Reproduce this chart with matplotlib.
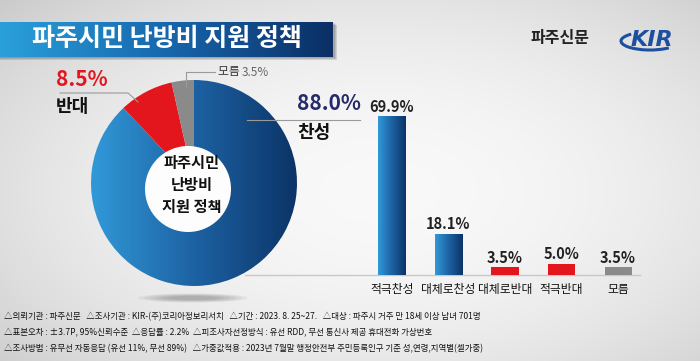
import numpy as np
import matplotlib
matplotlib.use('Agg')
import matplotlib.pyplot as plt
from matplotlib.colors import LinearSegmentedColormap
from matplotlib.patches import Rectangle, Circle, Ellipse, Arc

plt.rcParams['font.family'] = ['Noto Sans CJK KR', 'DejaVu Sans']

# ---------------- data ----------------
title = '파주시민 난방비 지원 정책'
publisher = '파주신문'
logo = 'KIR'
pie_labels = ['찬성', '반대', '모름']
pie_values = [88.0, 8.5, 3.5]
bar_labels = ['적극찬성', '대체로찬성', '대체로반대', '적극반대', '모름']
bar_values = [69.9, 18.1, 3.5, 5.0, 3.5]
bar_kinds = ['blue', 'blue', 'red', 'red', 'gray']
center_lines = ['파주시민', '난방비', '지원 정책']
footer_lines = [
    '△의뢰기관 : 파주신문   △조사기관 : KIR-(주)코리아정보리서치   △기간 : 2023. 8. 25~27.   △대상 : 파주시 거주 만 18세 이상 남녀 701명',
    '△표본오차 : ±3.7P, 95%신뢰수준  △응답률 : 2.2%  △피조사자선정방식 : 유선 RDD, 무선 통신사 제공 휴대전화 가상번호',
    '△조사방법 : 유무선 자동응답 (유선 11%, 무선 89%)   △가중값적용 : 2023년 7월말 행정안전부 주민등록인구 기준 성,연령,지역별(셀가중)',
]

BLUE_GRAD = LinearSegmentedColormap.from_list('bg', ['#3199d8', '#1d62a3', '#0b3467'])
RED = '#e3161d'
GRAY = '#8a8a8a'

W, H = 700, 361
fig = plt.figure(figsize=(7, 3.61), dpi=100)

# background
bg = fig.add_axes([0, 0, 1, 1])
bg.set_xlim(0, W); bg.set_ylim(H, 0); bg.axis('off')
yy, xx = np.mgrid[0:H, 0:W]
d = np.sqrt(((xx - 380) / 420.0) ** 2 + ((yy - 190) / 230.0) ** 2)
val = 0.975 - 0.12 * np.clip(d, 0, 1.3) ** 2
bg.imshow(np.dstack([val] * 3), extent=(0, W, H, 0), aspect='auto', zorder=0)

# banner with shadow
for k, a in enumerate([0.10, 0.10, 0.12]):
    bg.add_patch(Rectangle((0, 22 + 1 + k), 333 + 2 + k, 35, color='black', alpha=a, lw=0, zorder=1))
grad = np.linspace(0, 1, 256).reshape(1, -1)
ban_cmap = LinearSegmentedColormap.from_list('ban', ['#2aa0da', '#1767ad', '#0b2e65'])
bg.imshow(grad, extent=(0, 333, 57, 22), cmap=ban_cmap, aspect='auto', zorder=2)
bg.set_xlim(0, W); bg.set_ylim(H, 0)
bg.text(167, 39, title, color='white', fontsize=18, fontweight='bold', ha='center', va='center', zorder=3)

bg.text(560, 38, publisher, color='#222222', fontsize=11.5, fontweight='bold', ha='center', va='center', zorder=3)
bg.add_patch(Arc((650, 41), 58, 18, theta1=20, theta2=200, color='#1d4fa0', lw=2.2, zorder=3))
bg.text(652, 40, logo, color='#1d4fa0', fontsize=16, fontweight='heavy', fontstyle='italic',
        family='DejaVu Sans', ha='center', va='center', zorder=4)

# baseline and donut shadow
bg.plot([245, 640], [275, 275], color='#c8c8c8', lw=1, zorder=1)
for k in range(6):
    bg.add_patch(Ellipse((193, 298), 110 - k * 12, 9 - k * 1.0, color='#555555', alpha=0.08, lw=0, zorder=1))

# donut
cx, cy, r = 194, 183, 103
pax = fig.add_axes([(cx - r) / W, (H - (cy + r)) / H, 2 * r / W, 2 * r / H])
pax.set_xlim(-1, 1); pax.set_ylim(-1, 1); pax.axis('off')
wedges, _ = pax.pie(pie_values, startangle=90, counterclock=False, radius=1,
                    colors=['none', RED, GRAY], wedgeprops=dict(linewidth=0))
im = pax.imshow(grad, extent=(-1, 1, -1, 1), cmap=BLUE_GRAD, aspect='auto', zorder=0.5)
im.set_clip_path(wedges[0])
pax.set_xlim(-1, 1); pax.set_ylim(-1, 1)
hx, hy, hr = 188, 189, 43
pax.add_patch(Circle(((hx - cx) / r, -(hy - cy) / r), hr / r, color='#fdfdfd', lw=0, zorder=3))

# overlay for labels and leader lines
ov = fig.add_axes([0, 0, 1, 1])
ov.set_xlim(0, W); ov.set_ylim(H, 0); ov.axis('off'); ov.patch.set_alpha(0)
lc = '#9a9a9a'
ov.plot([60, 128, 138], [93, 93, 102], color=lc, lw=0.8)
ov.plot([186, 186, 215], [87, 72, 72], color=lc, lw=0.8)
ov.plot([247, 360], [120, 120], color=lc, lw=0.8)

ov.text(56, 80, f'{pie_values[1]}%', color=RED, fontsize=15, fontweight='bold', ha='left', va='center')
ov.text(56, 106, pie_labels[1], color='#111111', fontsize=13, fontweight='bold', ha='left', va='center')
ov.text(218, 72, pie_labels[2] + ' ', color='#333333', fontsize=8.5, ha='left', va='center')
ov.text(242, 72, f'{pie_values[2]}%', color='#666666', fontsize=8.5, ha='left', va='center')
ov.text(297, 104, f'{pie_values[0]}%', color='#252a6a', fontsize=15, fontweight='bold', ha='left', va='center')
ov.text(297, 133, pie_labels[0], color='#111111', fontsize=13, fontweight='bold', ha='left', va='center')
for yline, s in zip([163, 185, 207], center_lines):
    ov.text(192, yline, s, color='#111111', fontsize=11, fontweight='bold', ha='center', va='center')

# bars
px_per = 2.275
bax = fig.add_axes([360 / W, (H - 275) / H, 280 / W, (275 - 80) / H])
bax.set_xlim(-0.566, 4.389); bax.set_ylim(0, (275 - 80) / px_per); bax.axis('off')
bw = 0.478
for i, (v, kind) in enumerate(zip(bar_values, bar_kinds)):
    if kind == 'blue':
        rect = Rectangle((i - bw / 2, 0), bw, v, facecolor='none', lw=0)
        bax.add_patch(rect)
        gim = bax.imshow(grad, extent=(i - bw / 2, i + bw / 2, 0, v), cmap=BLUE_GRAD, aspect='auto', zorder=2)
        gim.set_clip_path(rect)
    else:
        bax.bar(i, v, width=bw, color=RED if kind == 'red' else GRAY, lw=0, zorder=2)
    bax.annotate(f'{v:.1f}%', (i, v), xytext=(0, 1), textcoords='offset points', ha='center', va='bottom',
                 fontsize=10.5, fontweight='bold', color='#222222')
    bax.text(i, -15 / px_per, bar_labels[i], ha='center', va='center', fontsize=8.5, fontweight='medium',
             color='#111111', clip_on=False)
bax.set_xlim(-0.566, 4.389); bax.set_ylim(0, (275 - 80) / px_per)

# footer, fitted to width
fig.canvas.draw()
renderer = fig.canvas.get_renderer()
probe = ov.text(5, 317, footer_lines[0], fontsize=8, fontweight='medium')
wpx = probe.get_window_extent(renderer).width
probe.remove()
fs = 8 * 480.0 / wpx
for yline, s in zip([317, 333, 349], footer_lines):
    ov.text(4, yline, s, fontsize=fs, fontweight='medium', color='#111111', ha='left', va='center')

fig.savefig('out.png', dpi=100)
